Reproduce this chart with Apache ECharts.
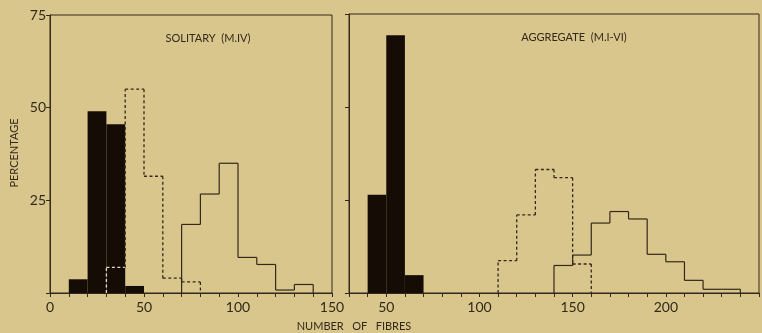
<!DOCTYPE html>
<html>
<head>
<meta charset="utf-8">
<script src="https://cdn.jsdelivr.net/npm/echarts@6/dist/echarts.min.js"></script>
<style>
  html, body { margin: 0; padding: 0; background: #d9c68d; }
  #chart { width: 762px; height: 333px; }
</style>
</head>
<body>
<div id="chart"></div>
<script>
// bin width 10, start of each bin
const binWidth = 10

// SOLITARY (M.IV)
const soloBlackStart = [10, 20, 30, 40]
const soloBlack = [3.7, 49, 45.5, 1.9]
const soloDashStart = [30, 40, 50, 60, 70]
const soloDash = [6.9, 55, 31.5, 4, 3]
const soloLineStart = [70, 80, 90, 100, 110, 120, 130]
const soloLine = [18.5, 26.7, 35, 9.6, 7.7, 0.8, 2.3]

// AGGREGATE (M.I-VI)
const aggBlackStart = [40, 50, 60]
const aggBlack = [26.4, 69.3, 4.8]
const aggDashStart = [110, 120, 130, 140, 150]
const aggDash = [8.7, 21, 33.2, 31, 7.8]
const aggLineStart = [140, 150, 160, 170, 180, 190, 200, 210, 220, 230]
const aggLine = [7.4, 10.2, 18.8, 21.9, 19.9, 10.4, 8.4, 3.4, 1, 1]

const yTicks = [25, 50, 75]
const soloXLabels = [0, 50, 100, 150]
const aggXLabels = [50, 100, 150, 200]

const ink = '#33291a'
const bg = '#d9c68d'
const font = 'Lato, "Open Sans", sans-serif'

const chart = echarts.init(document.getElementById('chart'))

// height of the black histogram at x (0 outside)
function blackAt(starts, vals, x) {
  for (let i = 0; i < starts.length; i++) {
    if (x > starts[i] && x < starts[i] + binWidth) return vals[i]
  }
  return 0
}
function blackEdge(starts, vals, x) {
  // at a bin boundary the black covers only the lower of both sides
  return Math.min(blackAt(starts, vals, x - 0.01), blackAt(starts, vals, x + 0.01))
}

function blockSeries(idx, starts, vals) {
  return {
    type: 'custom',
    xAxisIndex: idx,
    yAxisIndex: idx,
    z: 3,
    data: starts.map((s, i) => [s, s + binWidth, vals[i]]),
    renderItem: (params, api) => {
      const p0 = api.coord([api.value(0), api.value(2)])
      const p1 = api.coord([api.value(1), 0])
      return {
        type: 'rect',
        shape: { x: p0[0], y: p0[1], width: p1[0] - p0[0], height: p1[1] - p0[1] },
        style: { fill: '#140c05' }
      }
    }
  }
}

function outlineSeries(idx, starts, vals, dashed, bStarts, bVals) {
  return {
    type: 'custom',
    xAxisIndex: idx,
    yAxisIndex: idx,
    z: 4,
    data: starts.map((s, i) => [s, vals[i], i ? vals[i - 1] : 0, i === starts.length - 1 ? 1 : 0]),
    renderItem: (params, api) => {
      const x0 = api.value(0)
      const x1 = x0 + binWidth
      const y = api.value(1)
      const prev = api.value(2)
      const segs = [
        { a: [x0, y], b: [x1, y], inside: blackAt(bStarts, bVals, x0 + binWidth / 2) > y + 0.5 },
        { a: [x0, prev], b: [x0, y], inside: blackEdge(bStarts, bVals, x0) > Math.max(prev, y) }
      ]
      if (api.value(3)) {
        segs.push({ a: [x1, y], b: [x1, 0], inside: blackEdge(bStarts, bVals, x1) > y })
      }
      return {
        type: 'group',
        children: segs.map(sg => {
          const a = api.coord(sg.a)
          const b = api.coord(sg.b)
          return {
            type: 'line',
            shape: { x1: a[0], y1: a[1], x2: b[0], y2: b[1] },
            style: {
              stroke: sg.inside ? '#e6dcc0' : ink,
              lineWidth: dashed ? 1.3 : 1.2,
              lineDash: dashed ? [3, 2.5] : null
            }
          }
        })
      }
    }
  }
}

function xAxis(idx, min, max, labels) {
  return {
    type: 'value',
    gridIndex: idx,
    min: min,
    max: max,
    interval: 10,
    splitLine: { show: false },
    axisLine: { onZero: false, lineStyle: { color: ink, width: 1 } },
    axisTick: { show: true, length: 4, inside: false, lineStyle: { color: ink } },
    axisLabel: {
      color: ink,
      fontFamily: font,
      fontSize: 14,
      margin: 7,
      showMinLabel: true,
      showMaxLabel: true,
      formatter: v => (labels.indexOf(v) >= 0 ? String(v) : '')
    }
  }
}

function yAxis(idx, showLabels) {
  return {
    type: 'value',
    gridIndex: idx,
    min: 0,
    max: 75,
    interval: 25,
    splitLine: { show: false },
    axisLine: { lineStyle: { color: ink, width: 1 } },
    axisTick: { show: true, length: 4, lineStyle: { color: ink } },
    axisLabel: {
      show: showLabels,
      color: ink,
      fontFamily: font,
      fontSize: 14,
      margin: 4,
      formatter: v => (yTicks.indexOf(v) >= 0 ? String(v) : '')
    }
  }
}

const option = {
  backgroundColor: bg,
  animation: false,
  grid: [
    { left: 50, top: 15, width: 282, bottom: 40, show: true, borderColor: ink, borderWidth: 1, backgroundColor: 'transparent' },
    { left: 349, top: 14, right: 1, bottom: 40, show: true, borderColor: ink, borderWidth: 1, backgroundColor: 'transparent' }
  ],
  xAxis: [xAxis(0, 0, 150, soloXLabels), xAxis(1, 30, 250, aggXLabels)],
  yAxis: [yAxis(0, true), yAxis(1, false)],
  series: [
    blockSeries(0, soloBlackStart, soloBlack),
    outlineSeries(0, soloDashStart, soloDash, true, soloBlackStart, soloBlack),
    outlineSeries(0, soloLineStart, soloLine, false, soloBlackStart, soloBlack),
    blockSeries(1, aggBlackStart, aggBlack),
    outlineSeries(1, aggDashStart, aggDash, true, aggBlackStart, aggBlack),
    outlineSeries(1, aggLineStart, aggLine, false, aggBlackStart, aggBlack)
  ],
  graphic: [
    {
      type: 'text',
      style: { text: 'SOLITARY  (M.IV)', fill: ink, font: '11px ' + font, align: 'center', verticalAlign: 'middle' },
      x: 208, y: 38
    },
    {
      type: 'text',
      style: { text: 'AGGREGATE  (M.I-VI)', fill: ink, font: '11px ' + font, align: 'center', verticalAlign: 'middle' },
      x: 574, y: 37
    },
    {
      type: 'text',
      style: { text: 'PERCENTAGE', fill: ink, font: '11px ' + font, align: 'center', verticalAlign: 'middle' },
      x: 14, y: 153, rotation: Math.PI / 2
    },
    {
      type: 'text',
      style: { text: 'NUMBER   OF   FIBRES', fill: ink, font: '11px ' + font, align: 'center', verticalAlign: 'middle' },
      x: 354, y: 326
    }
  ]
}

chart.setOption(option)
</script>
</body>
</html>
